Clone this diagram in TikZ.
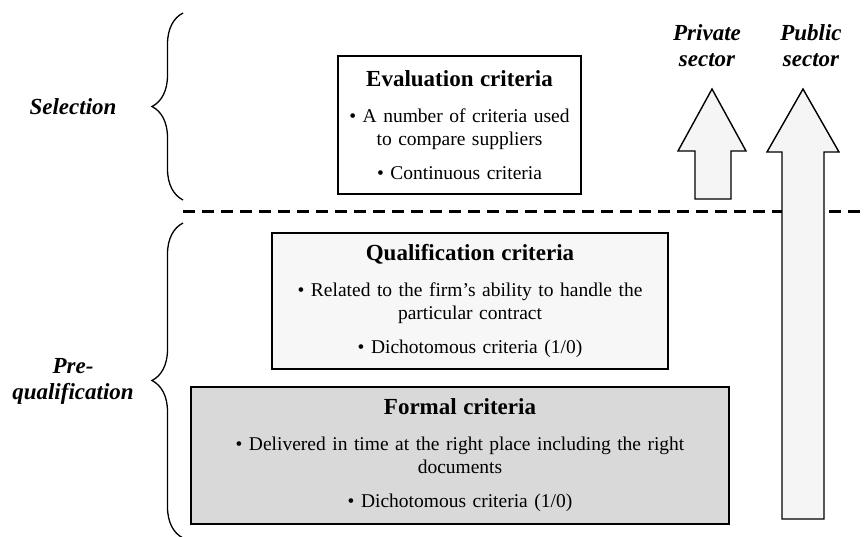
\documentclass[tikz,border=0pt]{standalone}
\usepackage{fontspec}
\setmainfont{Liberation Serif}
\definecolor{qualgray}{RGB}{247,247,247}
\definecolor{formgray}{RGB}{217,217,217}
\definecolor{arrowgray}{RGB}{245,245,245}
\usepackage{tikz}
\usetikzlibrary{positioning, decorations.pathreplacing}

\newcommand{\crittitle}[1]{{\fontsize{23}{26}\selectfont\bfseries #1}}
\newcommand{\bodyfont}{\fontsize{19.5}{23}\selectfont}
\newcommand{\phasefont}{\fontsize{23}{26}\selectfont\bfseries\itshape}

\begin{document}
\begin{tikzpicture}[
      x=1pt, y=-1pt,
      crit/.style = {draw, line width=1.4pt, align=center, inner sep=8pt,
                     font=\bodyfont},
      sectorarrow/.style = {draw, line width=1.4pt, fill=arrowgray,
                            line join=miter},
      phase/.style = {font=\phasefont, align=center},
      phasebrace/.style = {decorate, decoration={brace, amplitude=31pt},
                           line width=1.3pt},
      divider/.style = {line width=3pt, dash pattern=on 12pt off 7pt}
    ]
    \useasboundingbox (0,0) rectangle (865,536);

    % selection / pre-qualification boundary
    \draw[divider] (183,211) -- (865,211);

    % criteria boxes
    \node[crit, fill=white, text width=227pt, minimum height=138pt]
      (eval) at (459.5,125) {\crittitle{Evaluation criteria}\\[13pt]
      \textbullet\ A number of criteria used\\
      to compare suppliers\\[11pt]
      \textbullet\ Continuous criteria};
    \node[crit, fill=qualgray, text width=380pt, minimum height=136pt]
      (qual) at (470,301) {\crittitle{Qualification criteria}\\[13pt]
      \textbullet\ Related to the firm's ability to handle the\\
      particular contract\\[11pt]
      \textbullet\ Dichotomous criteria (1/0)};
    \node[crit, fill=formgray, text width=522pt, minimum height=137pt]
      (formal) at (460,455.5) {\crittitle{Formal criteria}\\[13pt]
      \textbullet\ Delivered in time at the right place including the right\\
      documents\\[11pt]
      \textbullet\ Dichotomous criteria (1/0)};

    % phases
    \node[phase] (sel) at (73,107) {Selection};
    \node[phase] (preq) at (73,381) {Pre-\\qualification};
    \draw[phasebrace] (183,200) -- (183,13);
    \draw[phasebrace] (183,538) -- (183,223);

    % sectors
    \draw[sectorarrow] (695,199) -- (695,151) -- (678,151) -- (712,89)
      -- (746,151) -- (731,151) -- (731,199) -- cycle;
    \draw[sectorarrow] (782,519) -- (782,152) -- (767,152) -- (803,89)
      -- (839,152) -- (824,152) -- (824,519) -- cycle;
    \node[phase] (priv) at (707,46) {Private\\sector};
    \node[phase] (pub) at (811,46) {Public\\sector};
  \end{tikzpicture}
\end{document}
